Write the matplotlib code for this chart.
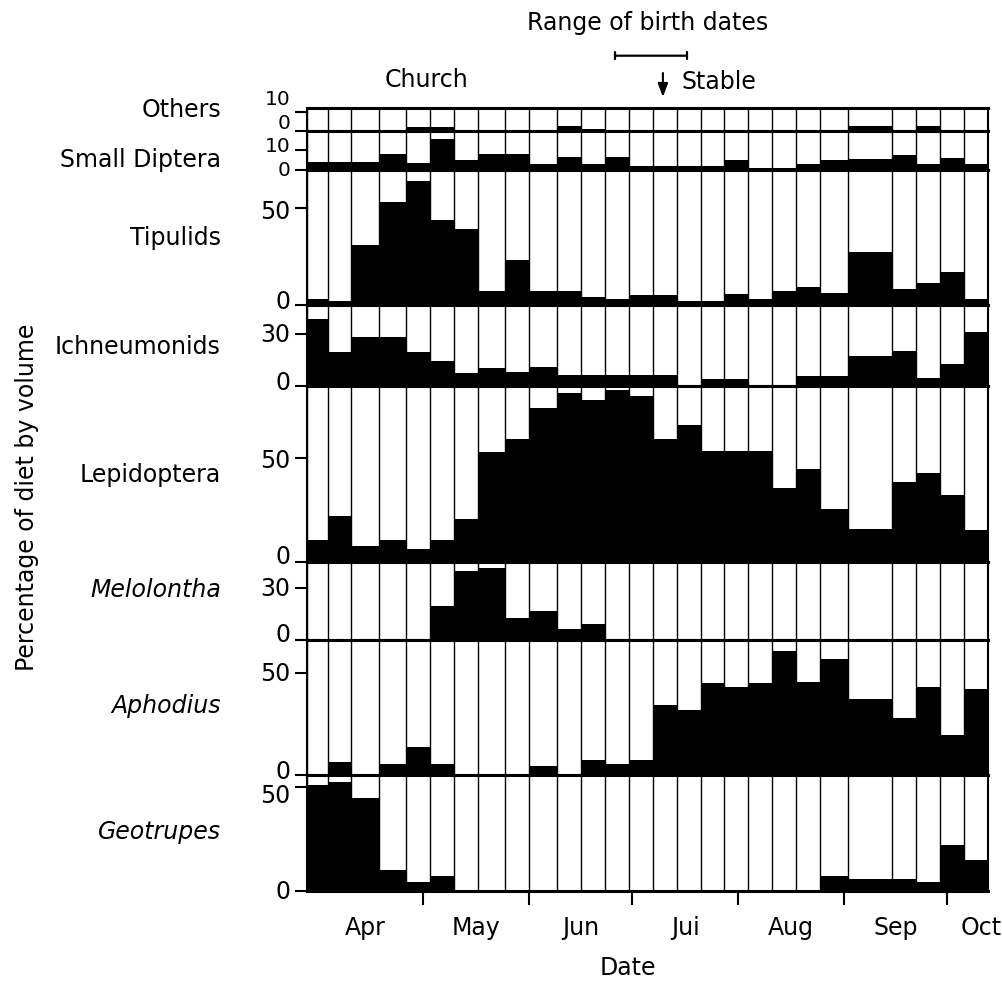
import matplotlib.pyplot as plt
from matplotlib.transforms import blended_transform_factory

plt.rcParams['font.family'] = ['DejaVu Sans']

# column boundaries: day of year where each sampling period starts (last = end)
sample_edges = [87, 93, 100, 108, 116, 123, 130, 137, 145, 152, 160, 167, 174,
                181, 188, 195, 202, 209, 216, 223, 230, 237, 245, 258, 265, 272,
                279, 286]

# percentage of diet by volume, one value per sampling period
others = [0.3, 0.3, 0.5, 0.5, 2, 2, 0.5, 0.3, 0.3, 0.5, 2.6, 0.8, 0.5, 0.5,
          0.5, 0.5, 0.5, 0.5, 0.5, 0.5, 0.5, 0.5, 2.6, 0.5, 2.6, 0.5, 0.5]
small_diptera = [4.2, 4.2, 4.2, 8, 3.5, 16, 5, 8, 8, 2.8, 6.7, 2.8, 6.7, 2,
                 2, 2, 2, 5, 1, 1, 2.8, 5, 5.3, 7.4, 2.8, 6, 2.8]
tipulids = [3, 2, 31, 53, 64, 44, 39, 7, 23, 7, 7, 4, 3, 5, 5, 2, 2, 5.5, 3,
            7, 9, 6, 27.5, 8, 11, 17, 3]
ichneumonids = [38.5, 20, 28.5, 28.5, 20, 14.5, 7.5, 10.5, 8.5, 11, 6.5, 6.5,
                6.5, 6.5, 6.5, 0, 4.3, 4.3, 0, 0, 6.2, 6.2, 17.5, 20.5, 4.7,
                12.7, 31]
lepidoptera = [10.5, 22.3, 7.6, 10.5, 6.5, 10.5, 20.5, 52.7, 58.9, 73.7, 81,
               77.4, 82.3, 79.5, 58.9, 65.3, 53, 53, 53, 35.5, 44.5, 25.5, 16,
               38.4, 42.4, 32, 15.6]
melolontha = [0, 0, 0, 0, 0, 19.5, 39.7, 41.6, 12.6, 17, 6.4, 9.3, 0, 0, 0, 0,
              0, 0, 0, 0, 0, 0, 0, 0, 0, 0, 0]
aphodius = [0, 6.2, 0, 5.5, 13.5, 5.5, 0, 0, 0, 4.5, 0, 7.3, 5.5, 7.5, 34.3,
            31.8, 44.8, 43.2, 45.1, 60.5, 45.6, 56.5, 37.3, 28.1, 43, 19.5, 42.2]
geotrupes = [51, 52.7, 44.7, 10.4, 4.3, 7.5, 0, 0, 0, 0, 0, 0, 0, 0, 0, 0, 0,
             0, 0, 0, 0, 7.5, 5.9, 5.9, 4.3, 22.4, 15.2]

panel_names = ['Others', 'Small Diptera', 'Tipulids', 'Ichneumonids',
               'Lepidoptera', 'Melolontha', 'Aphodius', 'Geotrupes']
panel_values = [others, small_diptera, tipulids, ichneumonids, lepidoptera,
                melolontha, aphodius, geotrupes]
panel_ymax = [12, 20, 70, 47, 84, 45, 66, 56]
panel_ticks = [[0, 10], [0, 10], [0, 50], [0, 30], [0, 50], [0, 30], [0, 50], [0, 50]]
italic_names = ['Melolontha', 'Aphodius', 'Geotrupes']

month_starts = [121, 152, 182, 213, 244, 274]
month_names = ['Apr', 'May', 'Jun', 'Jui', 'Aug', 'Sep', 'Oct']
birth_range = (177, 198)
stable_day = 191
church_day = 122

W, H = 1003, 987
fig = plt.figure(figsize=(W / 100, H / 100), dpi=100)

# layout in pixels: (top, zero line) for every panel
panel_px = [(109, 131.7), (131.7, 170.7), (170.7, 305.7), (305.7, 387.3),
            (387.3, 563.3), (563.3, 641), (641, 776), (776, 892.3)]
name_y = [110, 160, 238, 347, 475, 590, 706, 832]
# vertical nudge of the scale labels (pixels, + = down), as in the original
label_dy = [[-8.2, -12.8], [0, -4.2], [-4, 3], [-4, 0], [-6, 2], [-6, 0], [-4, 0], [0, 8]]
left_px, right_px = 307, 988
FS = 17
FS_SMALL = 14.5

widths = [b - a for a, b in zip(sample_edges[:-1], sample_edges[1:])]
axes = []
for i, (name, vals) in enumerate(zip(panel_names, panel_values)):
    top, zero = panel_px[i]
    ax = fig.add_axes([left_px / W, 1 - zero / H, (right_px - left_px) / W,
                       (zero - top) / H])
    ymax = panel_ymax[i]
    ax.bar(sample_edges[:-1], vals, width=widths, align='edge', color='black',
           edgecolor='none', zorder=2)
    ax.vlines(sample_edges, 0, ymax, color='black', lw=1.0, zorder=3)
    ax.set_xlim(sample_edges[0], sample_edges[-1])
    ax.set_ylim(0, ymax)
    # tick marks (none for the "10" of Others, which sits above the frame)
    ax.set_yticks([t for t in panel_ticks[i] if t < ymax])
    ax.set_yticklabels([])
    ax.tick_params(axis='y', length=9, width=1.5)
    fs = FS_SMALL if i < 2 else FS
    for t, dy in zip(panel_ticks[i], label_dy[i]):
        ax.annotate(str(t), xy=(0, t), xycoords=ax.get_yaxis_transform(),
                    xytext=(-12, -dy * 0.72), textcoords='offset points',
                    ha='right', va='center', fontsize=fs, annotation_clip=False)
    ax.set_xticks([])
    for s in ['left', 'right']:
        ax.spines[s].set_linewidth(1.5)
    for s in ['top', 'bottom']:
        ax.spines[s].set_linewidth(2.2)
    style = 'italic' if name in italic_names else 'normal'
    fig.text(221 / W, 1 - name_y[i] / H, name, ha='right', va='center',
             fontsize=FS, fontstyle=style)
    axes.append(ax)

# month axis on the bottom panel
bax = axes[-1]
bax.set_xticks(month_starts)
bax.set_xticklabels([])
bax.tick_params(axis='x', direction='out', length=10, width=1.5)
bounds = [sample_edges[0]] + month_starts + [sample_edges[-1]]
mids = [(a + b) / 2 for a, b in zip(bounds[:-1], bounds[1:])]
mids[-1] = sample_edges[-1] - 2
bax.set_xticks(mids, minor=True)
bax.set_xticklabels(month_names, minor=True, fontsize=FS)
bax.tick_params(axis='x', which='minor', length=0, pad=17)

fig.text(628 / W, 1 - 968 / H, 'Date', ha='center', va='center', fontsize=FS)
fig.text(27 / W, 1 - 497 / H, 'Percentage of diet by volume', rotation=90,
         ha='center', va='center', fontsize=FS)

# annotations above the panels
tr = blended_transform_factory(axes[0].transData, fig.transFigure)
fig.text(church_day, 1 - 80 / H, 'Church', transform=tr, ha='center',
         va='center', fontsize=FS)
fig.text(sum(birth_range) / 2 - 1, 1 - 23 / H, 'Range of birth dates',
         transform=tr, ha='center', va='center', fontsize=FS)
axes[0].annotate('', xy=(birth_range[0], 1 - 56.7 / H),
                 xytext=(birth_range[1], 1 - 56.7 / H),
                 xycoords=tr, textcoords=tr, annotation_clip=False,
                 arrowprops=dict(arrowstyle='|-|,widthA=0.25,widthB=0.25',
                                 lw=1.6, color='black', shrinkA=0, shrinkB=0))
axes[0].annotate('', xy=(stable_day, 1 - 98 / H), xytext=(stable_day, 1 - 74 / H),
                 xycoords=tr, textcoords=tr, annotation_clip=False,
                 arrowprops=dict(arrowstyle='-|>,head_width=0.3,head_length=0.8',
                                 lw=1.5, color='black', shrinkA=0, shrinkB=0))
fig.text(stable_day + 5.5, 1 - 82 / H, 'Stable', transform=tr, ha='left',
         va='center', fontsize=FS)

fig.savefig('out.png', dpi=100)
